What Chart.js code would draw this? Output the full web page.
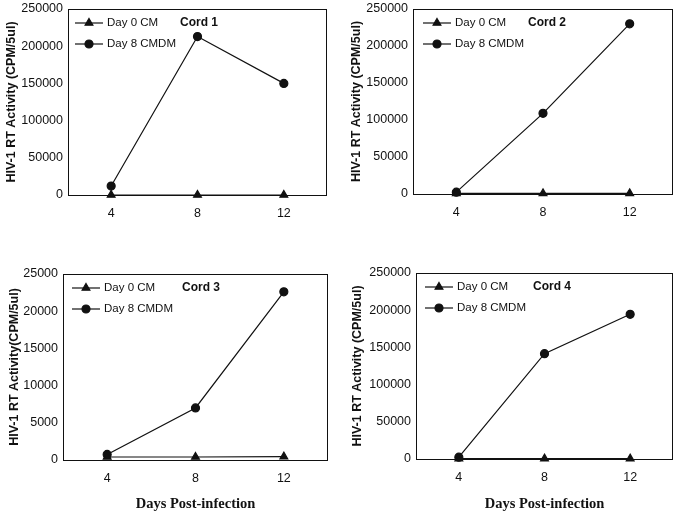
<!DOCTYPE html>
<html lang="en">
<head>
    <meta charset="UTF-8">
    <title>HIV-1 RT Activity - Cords 1-4</title>
    <script src="https://cdn.jsdelivr.net/npm/chart.js"></script>
    <style>
        body {
            margin: 0;
            background: #fff;
            overflow: hidden;
        }
        #page {
            position: relative;
            width: 685px;
            height: 515px;
            overflow: hidden;
        }
        .panel {
            position: absolute;
        }
    </style>
</head>
<body>

    <div id="page">
        <!-- top panels start above the page so the plot box can sit close to the top edge -->
        <div class="panel" style="left:0;top:-20px;width:340px;height:260px"><canvas id="cord1"></canvas></div>
        <div class="panel" style="left:340px;top:-20px;width:345px;height:260px"><canvas id="cord2"></canvas></div>
        <div class="panel" style="left:0;top:240px;width:340px;height:275px"><canvas id="cord3"></canvas></div>
        <div class="panel" style="left:340px;top:240px;width:345px;height:275px"><canvas id="cord4"></canvas></div>
    </div>

    <script>
        // Days post-infection (x categories)
        const days = ['4', '8', '12'];

        // HIV-1 RT activity (CPM/5ul)
        const cord1Day0 = [0, 0, 0];
        const cord1Day8 = [12000, 213000, 150000];
        const cord2Day0 = [800, 800, 800];
        const cord2Day8 = [2500, 109000, 230000];
        const cord3Day0 = [400, 400, 450];
        const cord3Day8 = [750, 7000, 22600];
        const cord4Day0 = [500, 500, 500];
        const cord4Day8 = [2500, 141500, 194500];

        const seriesNames = ['Day 0 CM', 'Day 8 CMDM'];
        const yMax = [250000, 250000, 25000, 250000];
        const yStep = [50000, 50000, 5000, 50000];

        // box around the plot area
        const framePlugin = {
            id: 'frame',
            beforeDatasetsDraw(chart) {
                const a = chart.chartArea;
                const ctx = chart.ctx;
                ctx.save();
                ctx.strokeStyle = '#111';
                ctx.lineWidth = 1;
                ctx.strokeRect(a.left + 0.5, a.top + 0.5, a.right - a.left - 1, a.bottom - a.top);
                ctx.restore();
            }
        };

        // legend drawn inside the plot, plus the "Cord n" label
        const insideLegend = {
            id: 'insideLegend',
            afterDraw(chart, args, opts) {
                const a = chart.chartArea;
                const ctx = chart.ctx;
                ctx.save();
                chart.data.datasets.forEach((ds, i) => {
                    const y = a.top + 14 + i * 21;
                    const x0 = a.left + opts.lineStart;
                    ctx.strokeStyle = '#111';
                    ctx.lineWidth = 1.2;
                    ctx.beginPath();
                    ctx.moveTo(x0, y);
                    ctx.lineTo(x0 + 28, y);
                    ctx.stroke();
                    ctx.fillStyle = '#111';
                    Chart.helpers.drawPoint(ctx, {
                        pointStyle: ds.pointStyle,
                        radius: ds.pointRadius,
                        rotation: 0,
                        borderWidth: 1
                    }, x0 + 14, y);
                    ctx.fillStyle = '#111';
                    ctx.font = '11.5px "Liberation Sans", Arial, sans-serif';
                    ctx.textBaseline = 'middle';
                    ctx.textAlign = 'left';
                    ctx.fillText(ds.label, x0 + 32, y);
                });
                ctx.font = 'bold 12px "Liberation Sans", Arial, sans-serif';
                ctx.textBaseline = 'middle';
                ctx.fillText(opts.title, a.left + opts.titleX, a.top + 14);
                ctx.restore();
            }
        };

        function makeChart(id, day0, day8, n, cfg) {
            const ctx = document.getElementById(id).getContext('2d');
            return new Chart(ctx, {
                type: 'line',
                data: {
                    labels: days,
                    datasets: [{
                        label: seriesNames[0],
                        data: day0,
                        borderColor: '#111',
                        backgroundColor: '#111',
                        borderWidth: 1.2,
                        pointStyle: 'triangle',
                        pointRadius: 4.5,
                        clip: false
                    }, {
                        label: seriesNames[1],
                        data: day8,
                        borderColor: '#111',
                        backgroundColor: '#111',
                        borderWidth: 1.2,
                        pointStyle: 'circle',
                        pointRadius: 4,
                        clip: false
                    }]
                },
                options: {
                    responsive: true,
                    maintainAspectRatio: false,
                    animation: false,
                    layout: {
                        padding: { left: 0, right: cfg.padRight, top: cfg.padTop, bottom: 0 }
                    },
                    plugins: {
                        legend: { display: false },
                        tooltip: { enabled: false },
                        insideLegend: { title: 'Cord ' + n, titleX: cfg.titleX, lineStart: cfg.lineStart }
                    },
                    scales: {
                        x: {
                            offset: true,
                            grid: { display: false, drawTicks: false },
                            border: { display: false },
                            ticks: {
                                color: '#111',
                                padding: 11,
                                font: { family: '"Liberation Sans", Arial, sans-serif', size: 12.5 }
                            },
                            title: {
                                display: cfg.xTitle,
                                text: 'Days Post-infection',
                                color: '#111',
                                padding: { top: 0, bottom: 2 },
                                font: { family: '"Liberation Serif", "Times New Roman", serif', size: 14.5, weight: 'bold' }
                            },
                            afterFit(scale) { scale.height = cfg.xHeight; }
                        },
                        y: {
                            min: 0,
                            max: yMax[n - 1],
                            grid: { display: false, drawTicks: false },
                            border: { display: false },
                            ticks: {
                                stepSize: yStep[n - 1],
                                color: '#111',
                                padding: 5,
                                callback: v => String(v),
                                font: { family: '"Liberation Sans", Arial, sans-serif', size: 12.5 }
                            },
                            title: {
                                display: true,
                                text: cfg.yTitle,
                                color: '#111',
                                padding: { top: cfg.yTitlePad, bottom: 0 },
                                font: { family: '"Liberation Sans", Arial, sans-serif', size: 12.5, weight: 'bold' }
                            },
                            afterFit(scale) { scale.width = cfg.yWidth; }
                        }
                    }
                },
                plugins: [framePlugin, insideLegend]
            });
        }

        makeChart('cord1', cord1Day0, cord1Day8, 1, {
            padRight: 13, padTop: 29, xHeight: 45, yWidth: 68, yTitlePad: 4.5,
            xTitle: false, titleX: 112, lineStart: 7, yTitle: 'HIV-1 RT Activity (CPM/5ul)'
        });
        makeChart('cord2', cord2Day0, cord2Day8, 2, {
            padRight: 12, padTop: 29, xHeight: 46, yWidth: 73, yTitlePad: 9.5,
            xTitle: false, titleX: 115, lineStart: 10, yTitle: 'HIV-1 RT Activity (CPM/5ul)'
        });
        makeChart('cord3', cord3Day0, cord3Day8, 3, {
            padRight: 12, padTop: 34, xHeight: 55, yWidth: 63, yTitlePad: 7.5,
            xTitle: true, titleX: 119, lineStart: 9, yTitle: 'HIV-1 RT Activity(CPM/5ul)'
        });
        makeChart('cord4', cord4Day0, cord4Day8, 4, {
            padRight: 12, padTop: 33, xHeight: 56, yWidth: 76, yTitlePad: 10.5,
            xTitle: true, titleX: 117, lineStart: 9, yTitle: 'HIV-1 RT Activity (CPM/5ul)'
        });
    </script>
</body>
</html>
